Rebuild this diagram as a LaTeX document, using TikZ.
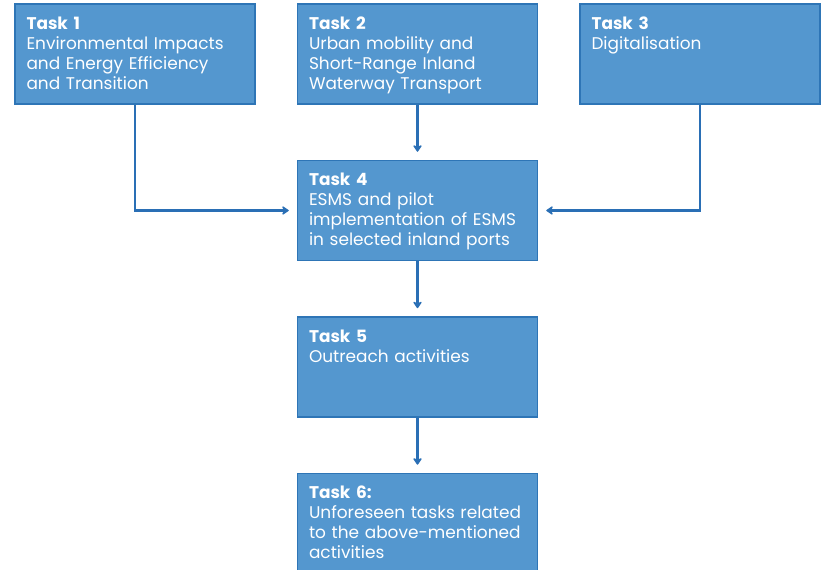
\documentclass[tikz,border=0pt]{standalone}
\usepackage{fontspec}
\setmainfont{Poppins}
\usetikzlibrary{arrows.meta, positioning}
\definecolor{taskfill}{HTML}{5497CF}
\definecolor{taskedge}{HTML}{2E75B6}
\definecolor{flow}{HTML}{2A6FB5}

\begin{document}
\begin{tikzpicture}[
    >={Stealth[round, length=6pt, width=8pt]},
    node distance=41.25pt and 30.75pt,
    task/.style={
      draw=taskedge, fill=taskfill, rectangle,
      minimum width=180pt, minimum height=75pt,
      line width=1.1pt, inner sep=0pt,
      label={[tasktext]north west:#1}},
    tasktext/.style={
      anchor=north west, text width=172pt, align=left,
      inner sep=0pt, xshift=9pt, yshift=-10pt,
      text=white, font=\fontsize{12.7}{15}\selectfont},
    arr/.style={->, line width=1.6pt, color=flow, shorten >=6pt},
  ]
  \useasboundingbox (-313.1pt,40.5pt) rectangle (302.6pt,-386.25pt);

  % ── Input tasks ──
  \node[task={\textbf{Task 2}\\Urban mobility and\\Short-Range Inland\\Waterway Transport}]
    (t2) at (0,0) {};
  \node[task={\textbf{Task 1}\\Environmental Impacts\\and Energy Efficiency\\and Transition},
        left=of t2] (t1) {};
  \node[task={\textbf{Task 3}\\Digitalisation}, right=of t2] (t3) {};

  % ── Chain below ──
  \node[task={\textbf{Task 4}\\ESMS and pilot\\implementation of ESMS\\in selected inland ports},
        below=of t2] (t4) {};
  \node[task={\textbf{Task 5}\\Outreach activities}, below=of t4] (t5) {};
  \node[task={\textbf{Task 6:}\\Unforeseen tasks related\\to the above-mentioned\\activities},
        below=of t5] (t6) {};

  % ── Connectors ──
  \draw[arr] (t1.south) |- (t4.west);
  \draw[arr] (t3.south) |- (t4.east);
  \draw[arr] (t2) -- (t4);
  \draw[arr] (t4) -- (t5);
  \draw[arr] (t5) -- (t6);

\end{tikzpicture}
\end{document}
